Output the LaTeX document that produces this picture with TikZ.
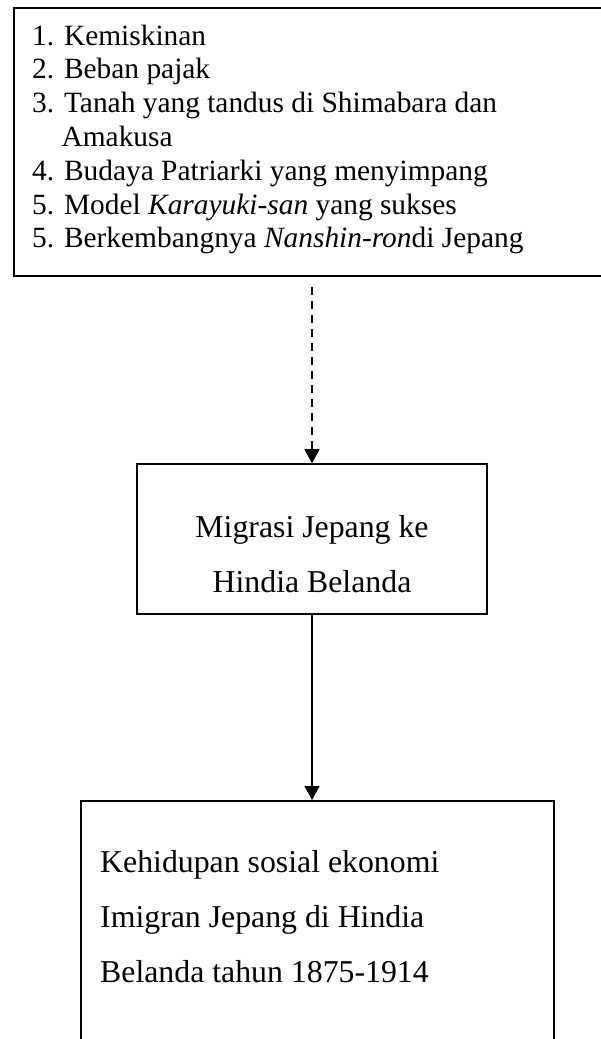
\documentclass[tikz,border=0pt]{standalone}
\usepackage{fontspec}
\setmainfont{Liberation Serif}
\usetikzlibrary{arrows.meta}
\begin{document}
\begin{tikzpicture}[x=1pt,y=-1pt,
  boxstyle/.style={draw, line width=1.6pt, inner sep=0pt},
  conn/.style={line width=1.4pt, -{Triangle[width=15pt,length=14pt]}},
  txt/.style={font=\fontsize{29.4}{33.7}\selectfont, inner sep=0pt, anchor=base west},
  bigtxt/.style={font=\fontsize{31.8}{55}\selectfont, inner sep=0pt, anchor=base west}]
\useasboundingbox (0,0) rectangle (601,1039);
\clip (0,0) rectangle (601,1039);
% top box (runs past the right edge)
\node[boxstyle, anchor=north west, minimum width=620pt, minimum height=268pt] (causes) at (13,7) {};
\node[txt] (l1) at (32,45) {1. Kemiskinan};
\node[txt] (l2) at (32,78.8) {2. Beban pajak};
\node[txt] (l3) at (32,112.6) {3. Tanah yang tandus di Shimabara dan};
\node[txt] (l4) at (32,146.4) {\hphantom{3.\ }Amakusa};
\node[txt] (l5) at (32,180.2) {4. Budaya Patriarki yang menyimpang};
\node[txt] (l6) at (32,214) {5. Model \textit{Karayuki-san} yang sukses};
\node[txt] (l7) at (32,247.8) {5. Berkembangnya \textit{Nanshin-ron}di Jepang};
% middle box
\node[boxstyle, minimum width=350pt, minimum height=150pt] (mig) at (312,539) {};
\node[bigtxt, anchor=base] (m1) at (312,537) {Migrasi Jepang ke};
\node[bigtxt, anchor=base] (m2) at (312,592) {Hindia Belanda};
% bottom box (runs past the bottom edge)
\node[boxstyle, anchor=north west, minimum width=473pt, minimum height=300pt] (life) at (80,800) {};
\node[bigtxt] (b1) at (100,872) {Kehidupan sosial ekonomi};
\node[bigtxt] (b2) at (100,927) {Imigran Jepang di Hindia};
\node[bigtxt] (b3) at (100,982) {Belanda tahun 1875-1914};
% connectors
\coordinate (dstart) at (312,287);
\draw[conn, dash pattern=on 8pt off 6pt] (dstart) -- (mig.north);
\draw[conn] (mig.south) -- (mig.south |- life.north);
\end{tikzpicture}
\end{document}
